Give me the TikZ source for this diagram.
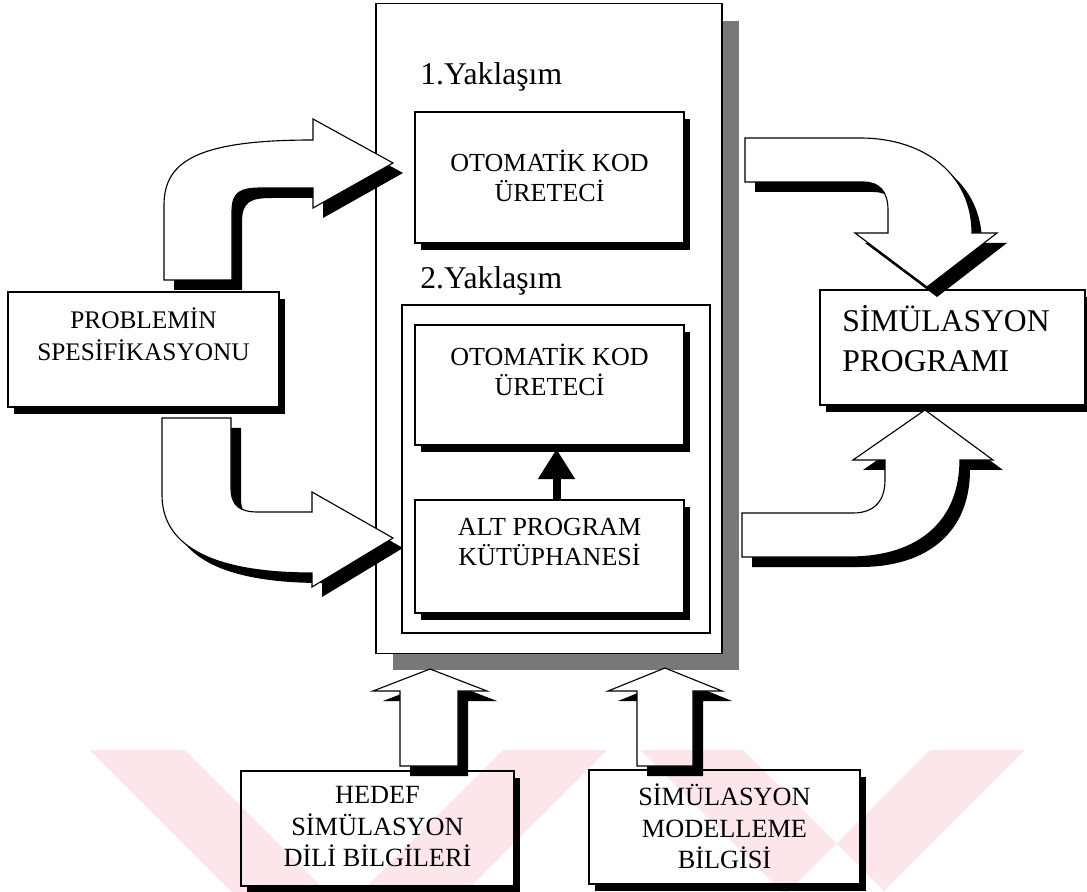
\documentclass[tikz,border=0pt]{standalone}
\usepackage{fontspec}
\setmainfont{Liberation Serif}
\usetikzlibrary{shadows,arrows.meta,calc}
\definecolor{wmpink}{RGB}{253,230,234}
\definecolor{framegray}{RGB}{120,120,120}
% block-arrow outlines (pixel-like units, y grows downwards)
\def\ulpath{(164,280) -- (164,205) .. controls (164,160) and (200,140) .. (313,140) -- (313,119) -- (393,163) -- (313,208) -- (313,188) -- (262,188) .. controls (240,188) and (232,192) .. (232,212) -- (232,280) -- cycle}
\def\llpath{(162,418) -- (162,495) .. controls (162,542) and (205,573) .. (312,573) -- (312,587) -- (393,538) -- (312,492) -- (312,512) -- (258,512) .. controls (240,512) and (231,506) .. (231,488) -- (231,418) -- cycle}
\def\urpath{(745,138) -- (860,138) .. controls (925,138) and (972,175) .. (972,233) -- (997,233) -- (927,287) -- (855,233) -- (888,233) -- (888,210) .. controls (888,192) and (880,182) .. (863,182) -- (745,182) -- cycle}
\def\lrpath{(742,513) -- (853,513) .. controls (875,513) and (885,500) .. (885,480) -- (885,460) -- (853,460) -- (925,410) -- (993,460) -- (960,460) .. controls (960,520) and (920,557) .. (850,557) -- (742,557) -- cycle}
\def\blpath{(400,766) -- (400,691) -- (373,691) -- (430,669) -- (487,691) -- (458,691) -- (458,766) -- cycle}
\def\brpath{(637,766) -- (637,691) -- (608,691) -- (665,668) -- (722,691) -- (693,691) -- (693,766) -- cycle}
\begin{document}
\begin{tikzpicture}[x=0.025cm,y=-0.025cm,
  box/.style={draw=black,fill=white,line width=0.8pt,inner sep=0pt,outer sep=0pt,
    drop shadow={shadow xshift=0.15cm,shadow yshift=-0.17cm,fill=black,opacity=1}},
  plainbox/.style={draw=black,fill=white,line width=0.8pt,inner sep=0pt,outer sep=0pt},
  boxtext/.style={align=center,font=\fontsize{18.5}{21.5}\selectfont,inner sep=0pt},
  headtext/.style={font=\fontsize{22.5}{26}\selectfont,inner sep=0pt},
  blockarrow/.style={draw=black,fill=white,line width=0.8pt,line join=miter},
  arrowshadow/.style={fill=black}]
\useasboundingbox (0,0) rectangle (1087,892);
\fill[white] (0,0) rectangle (1087,892);

% central container with grey shadow
\node[plainbox,minimum width=8.65cm,minimum height=16.225cm,
  drop shadow={shadow xshift=0.425cm,shadow yshift=-0.425cm,fill=framegray,opacity=1}]
  (main) at (549,328.5) {};
\node[headtext,anchor=base west] (y1) at (420,85) {1.Yaklaşım};
\node[box,minimum width=6.725cm,minimum height=3.275cm] (box1) at (549.5,177.5) {};
\node[boxtext] (t1) at (549.5,176) {OTOMATİK KOD\\ÜRETECİ};
\node[headtext,anchor=base west] (y2) at (420,289) {2.Yaklaşım};
\node[plainbox,minimum width=7.7cm,minimum height=8.2cm] (frame2) at (556,469) {};
\node[box,minimum width=6.725cm,minimum height=3.0cm] (box2) at (549.5,385) {};
\node[boxtext] (t2) at (549.5,370) {OTOMATİK KOD\\ÜRETECİ};
\node[box,minimum width=6.725cm,minimum height=2.825cm] (alt) at (549.5,556.5) {};
\node[boxtext] (t3) at (549.5,542) {ALT PROGRAM\\KÜTÜPHANESİ};
\draw[line width=0.2cm,-{Triangle[width=0.875cm,length=0.75cm]}]
  ($(alt.north)+(7,0)$) -- ($(box2.south)+(7,4)$);

% outer boxes
\node[box,minimum width=6.775cm,minimum height=2.875cm] (prob) at (143.5,349.5) {};
\node[boxtext,font=\fontsize{18}{22.5}\selectfont] (tp) at (143.5,334) {PROBLEMİN\\SPESİFİKASYONU};
\node[box,minimum width=6.625cm,minimum height=2.875cm] (sim) at (952.5,347.5) {};
\node[align=left,inner sep=0pt,font=\fontsize{22.5}{28}\selectfont,anchor=west] (ts) at (842,338.5) {SİMÜLASYON\\PROGRAMI};
\node[box,minimum width=6.825cm,minimum height=2.875cm] (hedef) at (377.5,828.5) {};
\node[boxtext,font=\fontsize{18.7}{22.4}\selectfont] (th) at (377.5,827) {HEDEF\\SİMÜLASYON\\DİLİ BİLGİLERİ};
\node[box,minimum width=6.775cm,minimum height=2.85cm] (model) at (724.5,827) {};
\node[boxtext,font=\fontsize{18.7}{22.4}\selectfont] (tm) at (724.5,826.5) {SİMÜLASYON\\MODELLEME\\BİLGİSİ};

% block arrows with their black shadows
\foreach \p in {\ulpath,\llpath,\urpath,\lrpath,\blpath,\brpath}{
  \fill[arrowshadow,shift={(10,10)}] \p;
  \draw[blockarrow] \p;
}

% faint chevron watermark laid over the lower part (one path, so overlaps stay even)
\begin{scope}[blend mode=multiply]
\clip (0,750) rectangle (1087,892);
\fill[wmpink,nonzero rule]
  (90,750) -- (185,750) -- (327,892) -- (232,892) -- cycle
  (503,750) -- (607,750) -- (465,892) -- (361,892) -- cycle
  (640,750) -- (743,750) -- (885,892) -- (782,892) -- cycle
  (1025,750) -- (930,750) -- (788,892) -- (883,892) -- cycle;
\end{scope}
\end{tikzpicture}
\end{document}
